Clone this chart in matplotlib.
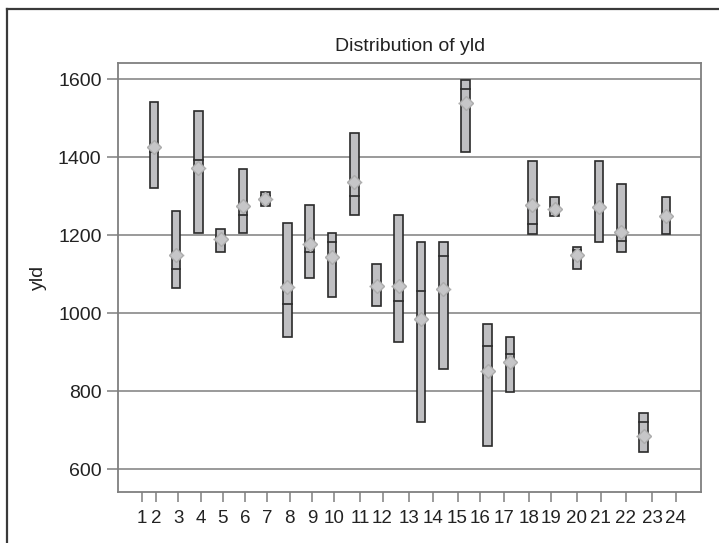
import matplotlib
matplotlib.use("Agg")
import matplotlib.pyplot as plt
from matplotlib.patches import Rectangle
from matplotlib.lines import Line2D

# yld summary per group: box spans min..max, with median and mean
groups = list(range(1, 25))
y_min = [1320, 1064, 1205, 1158, 1205, 1274, 939, 1089, 1041, 1251, 1018, 927,
         720, 858, 1412, 660, 797, 1204, 1249, 1112, 1182, 1158, 645, 1204]
y_max = [1542, 1263, 1518, 1216, 1369, 1311, 1230, 1276, 1206, 1462, 1125, 1251,
         1183, 1183, 1597, 973, 938, 1391, 1298, 1170, 1391, 1332, 743, 1298]
y_med = [1412, 1114, 1392, 1196, 1252, 1300, 1023, 1157, 1183, 1299, 1067, 1031,
         1057, 1147, 1575, 917, 895, 1228, 1267, 1162, 1275, 1186, 720, 1251]
y_mean = [1425, 1148, 1371, 1190, 1275, 1293, 1067, 1176, 1143, 1335, 1070, 1070,
          985, 1061, 1538, 851, 876, 1276, 1266, 1149, 1273, 1209, 685, 1249]

# axis tick labels sit at their own (uneven) positions
tick_pos = [0.45, 1.09, 2.09, 3.11, 4.09, 5.09, 6.09, 7.10, 8.10, 9.09, 10.25, 11.27,
            12.44, 13.55, 14.64, 15.66, 16.72, 17.85, 18.83, 19.99, 21.08, 22.20, 23.39, 24.44]
tick_labels = [str(i) for i in range(1, 25)]
y_ticks = [600, 800, 1000, 1200, 1400, 1600]

plt.rcParams['font.family'] = ['Liberation Sans', 'DejaVu Sans']

fig = plt.figure(figsize=(7.19, 5.43), dpi=100)
ax = fig.add_axes([0.1645, 0.0939, 0.9754 - 0.1645, 0.8834 - 0.0939])

grid_col = '#7f7f7f'
for v in y_ticks:
    ax.axhline(v, color=grid_col, lw=1.1, zorder=1)

w = 0.39
for g, lo, hi, md, mn in zip(groups, y_min, y_max, y_med, y_mean):
    ax.add_patch(Rectangle((g - w / 2, lo), w, hi - lo, facecolor='#bfbfc2',
                           edgecolor='#2a2a2a', lw=1.2, zorder=3))
    ax.plot([g - w / 2, g + w / 2], [md, md], color='#2a2a2a', lw=1.2, zorder=4)
    ax.plot([g - 0.33, g + 0.33], [mn, mn], color='#a0a0a0', lw=1.0, ls=':', zorder=5)
    ax.plot(g, mn, marker='D', ms=7.5, mfc='#c6c6c8', mec='#acacac', mew=1.0,
            ls='none', zorder=6)

ax.set_xlim(-0.60, 25.59)
ax.set_ylim(541.8, 1640.2)

ax.set_yticks(y_ticks)
ax.set_yticklabels([str(v) for v in y_ticks], fontsize=14, color='#222222')
ax.set_xticks(tick_pos)
ax.set_xticklabels(tick_labels, fontsize=13.5, color='#222222',
                   family=['Liberation Sans Narrow', 'Liberation Sans'])
ax.tick_params(axis='y', length=8, width=1.1, color=grid_col, pad=4)
ax.tick_params(axis='x', length=7, width=1.1, color=grid_col, pad=6)

for s in ax.spines.values():
    s.set_color(grid_col)
    s.set_linewidth(1.3)

ax.set_title('Distribution of yld', fontsize=14, color='#222222', pad=9)
ax.set_ylabel('yld', fontsize=14, color='#222222', labelpad=8)

# outer frame, running off the right and bottom edges
fig.add_artist(Line2D([7 / 719, 7 / 719], [0, 1 - 9 / 543], transform=fig.transFigure,
                      color='#3a3a3a', lw=1.6))
fig.add_artist(Line2D([7 / 719, 1], [1 - 9 / 543, 1 - 9 / 543], transform=fig.transFigure,
                      color='#3a3a3a', lw=1.6))

fig.savefig('out.png', dpi=100)
